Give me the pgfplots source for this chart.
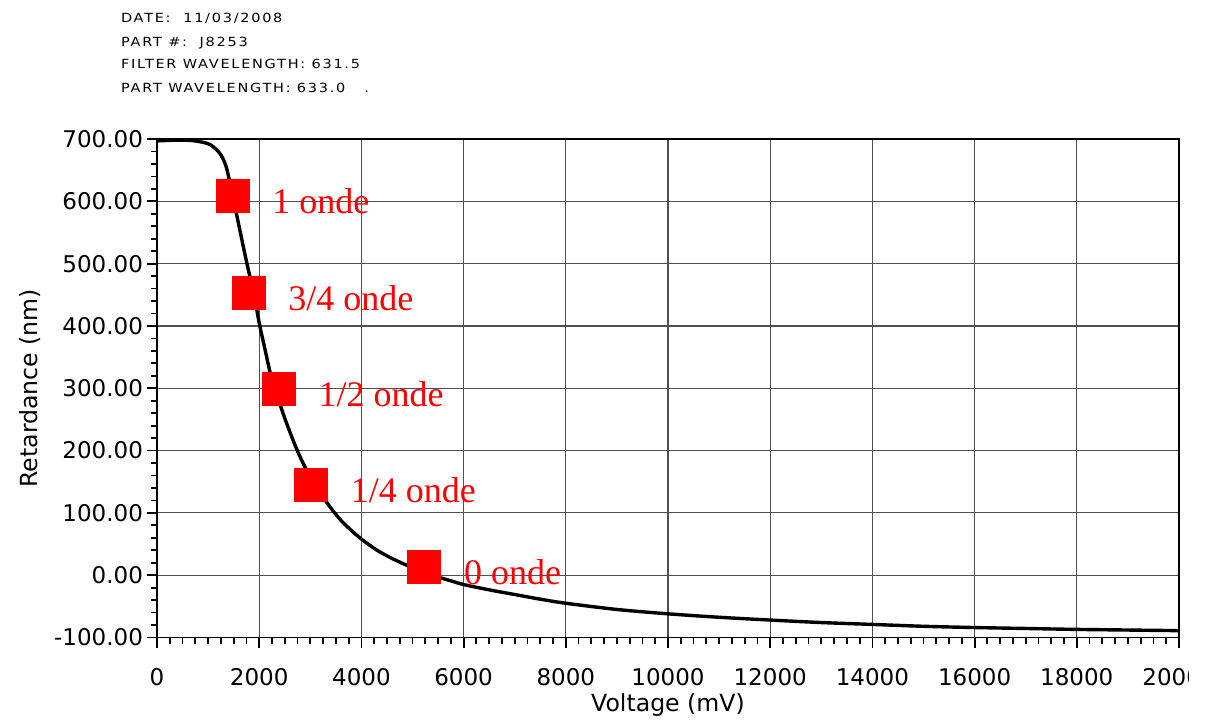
\documentclass[border=0pt]{standalone}
\usepackage{pgfplots}
\pgfplotsset{compat=1.18}
\usepackage{pgfplotstable}
\usepackage{fontspec}
\setmainfont{DejaVu Sans}
\newfontfamily\serifred{Liberation Serif}
\newfontfamily\hdr[LetterSpace=12]{DejaVu Sans}
\definecolor{gridc}{RGB}{80,80,80}

\pgfplotstableread{
x y
0 697
300 698
600 698
820 696
1040 691
1230 677
1340 659
1400 640
1470 612
1560 578
1760 500
1880 458
2000 405
2120 360
2215 325
2300 302
2400 276
2500 252
2600 230
2700 209
2800 190
2900 173
3000 158
3200 131
3400 108
3600 88
3800 72
4000 58
4250 43
4500 31
4750 21
5000 12
5250 4
5500 -3
5750 -9
6000 -15
6500 -23.5
7000 -31
7500 -38.5
8000 -45
9000 -55
10000 -62
11000 -67.5
12000 -72
13000 -76
14000 -79
15000 -82
16000 -84
17000 -85.5
18000 -87
19000 -88
20000 -89
}\curve

\pgfplotstableread[col sep=comma]{
x,y,label
1474,609,1 onde
1787,454,3/4 onde
2380,300,1/2 onde
3010,145,1/4 onde
5225,14,0 onde
}\waves

\begin{document}
\begin{tikzpicture}[x=1pt,y=1pt]
\path[use as bounding box] (0,0) rectangle (605.5,360);
\begin{axis}[
  at={(78.5pt,41.25pt)}, anchor=south west,
  width=511pt, height=249.25pt, scale only axis,
  xmin=0, xmax=20000, ymin=-100, ymax=700,
  xtick={0,2000,...,20000}, ytick={-100,0,...,700},
  minor x tick num=7, minor y tick num=4,
  tick align=outside, xtick pos=left, ytick pos=left,
  major tick length=5pt, minor tick length=3pt,
  every tick/.style={black, line width=0.9pt},
  grid=major, major grid style={gridc, line width=0.6pt},
  axis line style={black, line width=0.9pt},
  tick label style={font=\fontsize{11.5}{13}\selectfont},
  /pgf/number format/assume math mode=true,
  scaled ticks=false,
  xticklabel style={yshift=-7pt, /pgf/number format/1000 sep={}, /pgf/number format/fixed},
  yticklabel style={xshift=1.5pt, /pgf/number format/fixed, /pgf/number format/fixed zerofill, /pgf/number format/precision=2},
  xlabel={Voltage (mV)}, ylabel={Retardance (nm)},
  label style={font=\fontsize{11.8}{13}\selectfont},
  xlabel style={yshift=3pt},
  clip=false,
]
\addplot[black, line width=1.7pt, smooth] table {\curve};
\addplot[only marks, mark=square*, mark size=8.25pt,
  mark options={fill=red, draw=red, line width=0.1pt},
  point meta=explicit symbolic,
  nodes near coords,
  every node near coord/.append style={anchor=base west, inner sep=0pt, xshift=20pt, yshift=-9pt, text=red, font=\serifred\fontsize{18}{20}\selectfont}
  ] table[x=x, y=y, meta=label] {\waves};
\end{axis}
\fill[white] (594.5,8) rectangle (606,32);
\begin{scope}[every node/.style={anchor=base west, inner sep=0pt, font=\hdr\fontsize{6.3}{7}\selectfont}]
\node at (60.35,349) {\scalebox{1.15}[1]{DATE:~~11/03/2008}};
\node at (60.35,337) {\scalebox{1.15}[1]{PART \#:~~J8253}};
\node at (60.35,325.75) {\scalebox{1.15}[1]{FILTER WAVELENGTH: 631.5}};
\node at (60.35,314) {\scalebox{1.15}[1]{PART WAVELENGTH: 633.0~~~.}};
\end{scope}
\end{tikzpicture}
\end{document}
